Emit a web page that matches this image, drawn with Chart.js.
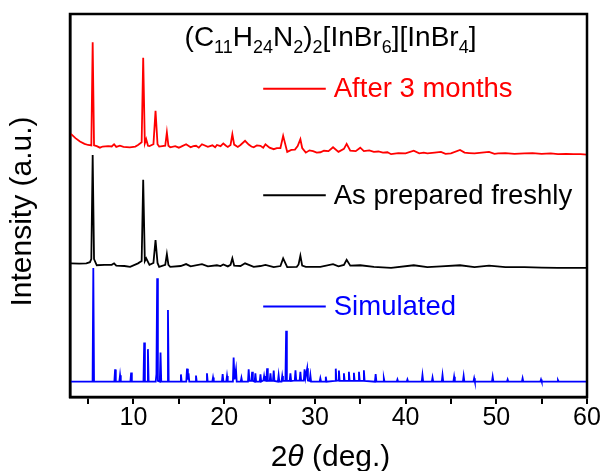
<!DOCTYPE html>
<html>
<head>
<meta charset="utf-8">
<script src="https://cdn.jsdelivr.net/npm/chart.js@4.4.1/dist/chart.umd.min.js"></script>
<style>
  html, body { margin: 0; padding: 0; background: #fff; }
  #wrap { width: 605px; height: 471px; }
</style>
</head>
<body>
<div id="wrap"><canvas id="xrd" width="605" height="471"></canvas></div>
<script>
// akser
const xMin = 3;
const xMax = 60;
const yMin = 0;
const yMax = 100;
const xTickValues = [5, 10, 15, 20, 25, 30, 35, 40, 45, 50, 55, 60];
const xTickLabels = ['', '10', '', '20', '', '30', '', '40', '', '50', '', '60'];

// serienavn
const seriesNames = ['After 3 months', 'As prepared freshly', 'Simulated'];

// etter 3 maaneder (2theta, intensitet)
const after3Months = [
  [3.1, 68.7], [3.6, 67.6], [4.1, 66.7], [4.6, 66.1], [5.0, 65.8], [5.35, 65.7], [5.5, 92.6], [5.65, 65.7],
  [5.95, 65.5], [6.3, 65.1], [6.6, 65.4], [7.2, 65.5], [7.6, 65.4], [7.86, 66.0], [8.1, 65.3], [8.5, 65.6], [8.9, 65.3], [9.6, 65.2],
  [10.2, 65.4], [10.5, 65.8], [10.9, 66.5], [11.07, 88.6], [11.25, 66.2], [11.4, 67.3], [11.6, 65.6], [11.76, 65.5],
  [12.2, 66.0], [12.43, 74.7], [12.65, 66.0], [12.83, 65.4], [13.5, 65.6], [13.68, 69.1], [13.85, 65.6], [14.05, 65.2],
  [14.6, 65.5], [15.0, 65.1], [15.2, 65.3], [15.8, 66.0], [16.3, 65.2], [16.6, 65.5], [16.9, 65.6], [17.2, 65.1], [17.55, 66.0], [18.2, 65.3], [18.7, 65.7],
  [19.0, 65.2], [19.2, 65.8], [19.6, 65.5], [19.9, 66.2], [20.2, 65.6], [20.4, 65.3], [20.7, 65.8], [20.9, 68.6], [21.1, 65.9], [21.5, 65.3],
  [21.8, 65.8], [22.3, 66.9], [22.7, 65.9], [23.0, 65.4], [23.25, 65.2], [23.6, 65.7], [24.0, 65.6], [24.3, 65.1], [24.55, 66.0], [25.0, 65.1], [25.46, 64.7],
  [25.8, 65.0], [26.2, 65.0], [26.5, 68.2], [26.95, 64.0], [27.4, 64.5], [27.8, 64.6], [28.1, 65.5], [28.4, 67.3], [28.6, 65.0],
  [29.0, 63.8], [29.4, 64.4], [29.8, 64.2], [30.2, 63.8], [30.6, 63.9], [31.0, 64.3], [31.5, 64.2], [32.0, 65.2], [32.6, 64.0], [33.2, 64.8], [33.5, 66.1],
  [33.9, 64.3], [34.5, 64.2], [35.0, 65.1], [35.4, 64.2], [36.0, 64.4], [36.5, 64.0], [37.0, 64.1], [37.5, 63.8], [38.0, 63.9], [38.4, 63.4],
  [39.2, 63.7], [40.0, 63.6], [40.9, 64.3], [41.5, 63.6], [42.0, 63.8], [42.4, 63.6], [43.2, 63.8], [43.9, 64.0], [44.4, 63.5], [45.0, 63.6],
  [46.0, 64.5], [46.5, 63.8], [47.0, 63.7], [47.6, 63.6], [48.4, 63.8], [49.2, 64.0], [49.8, 63.5], [50.2, 63.6], [51.0, 63.7], [52.0, 63.5],
  [53.1, 63.6], [54.0, 63.7], [55.0, 63.5], [56.0, 63.6], [56.8, 63.4], [57.7, 63.5], [58.5, 63.4], [59.3, 63.4],
  [60, 63.3]
];

// ferskt preparert
const asPrepared = [
  [3.1, 34.9], [4.0, 34.8], [4.8, 34.9], [5.2, 35.2], [5.35, 36.0], [5.5, 63.2], [5.65, 36.0], [5.95, 34.4],
  [6.8, 34.5], [7.6, 34.5], [7.86, 34.9], [8.1, 34.3], [9.0, 34.2], [9.63, 34.0], [10.5, 34.9], [10.9, 35.5],
  [11.07, 56.7], [11.25, 35.5], [11.4, 36.2], [11.76, 34.5], [12.2, 35.0], [12.43, 41.0], [12.65, 35.0], [12.83, 34.0],
  [13.5, 34.5], [13.68, 37.3], [13.85, 34.5], [14.05, 34.0], [15.2, 34.2], [15.8, 34.7], [16.3, 34.1], [17.55, 34.7],
  [18.2, 34.1], [19.2, 34.4], [19.6, 34.2], [19.9, 34.6], [20.4, 34.1], [20.7, 34.5], [20.9, 36.2], [21.1, 34.3],
  [21.8, 34.2], [22.3, 34.9], [23.25, 34.0], [24.0, 34.2], [24.55, 34.5], [25.46, 33.9], [26.2, 34.2], [26.5, 36.2],
  [26.95, 33.9], [28.0, 34.0], [28.2, 34.6], [28.4, 36.9], [28.6, 34.3], [29.0, 34.0], [30.6, 34.0], [32.0, 34.7],
  [32.6, 34.1], [33.2, 34.5], [33.5, 35.8], [33.9, 34.3], [35.0, 34.4], [36.5, 34.0], [38.4, 33.7], [40.9, 34.4],
  [42.4, 33.9], [43.9, 34.1], [46.0, 34.4], [47.6, 33.9], [49.2, 34.3], [51.0, 33.9], [53.1, 33.9], [55.0, 33.8],
  [56.8, 33.7], [60, 33.7]
];

// simulert
const simulated = [
  [3.0, 4.0], [5.49, 4.0], [5.57, 33.7], [5.65, 4.0],
  [7.89, 4.0], [7.97, 7.2], [8.05, 4.0], [8.44, 4.0], [8.52, 5.7], [8.6, 4.0],
  [9.66, 4.0], [9.74, 6.4], [9.82, 4.0], [11.1, 4.0], [11.18, 14.2], [11.26, 4.0],
  [11.51, 4.0], [11.59, 12.5], [11.67, 4.0], [12.45, 4.0], [12.53, 6.0], [12.61, 31.0], [12.69, 4.2],
  [12.9, 4.0], [12.98, 11.6], [13.06, 4.0], [13.72, 4.0], [13.8, 22.7], [13.88, 4.0],
  [15.15, 4.0], [15.23, 5.9], [15.31, 4.0], [15.82, 4.0], [15.9, 7.4], [16.0, 4.5], [16.07, 6.2], [16.15, 4.0],
  [16.81, 4.0], [16.89, 5.6], [16.97, 4.0], [18.02, 4.0], [18.1, 6.2], [18.18, 4.0],
  [18.69, 4.0], [18.77, 5.1], [18.85, 4.0], [19.75, 4.0], [19.83, 6.0], [19.91, 4.0],
  [20.23, 4.0], [20.31, 5.5], [20.39, 4.0], [20.96, 4.0], [21.04, 10.3], [21.14, 4.6], [21.3, 7.2], [21.38, 4.0],
  [21.82, 4.0], [21.9, 5.0], [21.98, 4.0], [22.62, 4.0], [22.7, 7.2], [22.78, 4.2],
  [23.0, 4.2], [23.08, 6.6], [23.16, 4.2], [23.36, 4.0], [23.44, 6.2], [23.52, 4.0],
  [23.92, 4.0], [24.0, 5.9], [24.08, 4.0], [24.32, 4.3], [24.4, 5.5], [24.48, 4.3],
  [24.65, 4.2], [24.73, 7.5], [24.81, 4.2], [25.02, 4.2], [25.1, 6.2], [25.18, 4.2],
  [25.38, 4.2], [25.46, 6.9], [25.54, 4.2], [25.92, 4.0], [26.0, 5.7], [26.08, 4.0],
  [26.32, 4.0], [26.4, 5.5], [26.48, 4.2], [26.75, 4.2], [26.83, 17.3], [26.91, 4.2],
  [27.22, 4.2], [27.3, 6.2], [27.38, 4.2], [27.78, 4.3], [27.86, 7.0], [27.94, 4.3],
  [28.32, 4.3], [28.4, 6.6], [28.48, 4.3], [28.78, 4.3], [28.86, 7.2], [28.96, 5.0], [29.15, 7.5], [29.23, 4.3],
  [29.42, 4.2], [29.5, 5.7], [29.58, 4.0], [30.52, 4.0], [30.6, 4.9], [30.68, 4.0],
  [31.12, 4.0], [31.2, 5.3], [31.28, 4.0], [32.22, 4.2], [32.3, 7.4], [32.38, 4.3], [32.57, 4.3], [32.65, 6.9], [32.73, 4.2],
  [33.12, 4.2], [33.2, 6.2], [33.28, 4.2], [33.67, 4.2], [33.75, 6.6], [33.83, 4.2],
  [34.22, 4.2], [34.3, 6.3], [34.38, 4.2], [34.78, 4.2], [34.86, 6.6], [34.94, 4.2],
  [35.32, 4.2], [35.4, 7.0], [35.48, 4.2], [36.62, 4.0], [36.7, 6.0], [36.78, 4.0],
  [37.52, 4.0], [37.6, 4.9], [37.68, 4.0], [39.02, 4.0], [39.1, 4.6], [39.18, 4.0],
  [40.12, 4.0], [40.2, 4.6], [40.28, 4.0], [41.78, 4.0], [41.86, 5.7], [41.94, 4.0],
  [42.89, 4.0], [42.97, 5.1], [43.05, 4.0], [43.99, 4.0], [44.07, 5.7], [44.15, 4.0],
  [45.27, 4.0], [45.35, 5.3], [45.43, 4.0], [46.32, 4.0], [46.4, 5.5], [46.48, 4.0],
  [47.48, 4.0], [47.56, 4.9], [47.64, 4.0], [49.52, 4.0], [49.6, 5.3], [49.68, 4.0],
  [51.17, 4.0], [51.25, 4.6], [51.33, 4.0], [52.82, 4.0], [52.9, 4.9], [52.98, 4.0],
  [54.85, 4.0], [54.93, 4.6], [55.01, 4.0], [56.72, 4.0], [56.8, 4.4], [56.88, 4.0],
  [60, 4.0]
];

const seriesData = [after3Months, asPrepared, simulated];
const seriesColors = ['#ff0000', '#000000', '#0000ff'];

// tekst i plottet: tittel med senket skrift + etiketter ved linjene
const textPlugin = {
  id: 'textPlugin',
  afterDraw(chart) {
    const ctx = chart.ctx;
    const area = chart.chartArea;
    const xs = chart.scales.x;
    const ys = chart.scales.y;

    // ramme rundt plottet
    ctx.save();
    ctx.strokeStyle = '#000';
    ctx.lineWidth = 2.5;
    ctx.strokeRect(area.left, area.top, area.right - area.left, area.bottom - area.top);

    // tittel
    const parts = [['(C', 0], ['11', 1], ['H', 0], ['24', 1], ['N', 0], ['2', 1], [')', 0], ['2', 1],
                   ['[InBr', 0], ['6', 1], ['][InBr', 0], ['4', 1], [']', 0]];
    const bigFont = '28px "Liberation Sans", Arial, sans-serif';
    const smallFont = '18px "Liberation Sans", Arial, sans-serif';
    let total = 0;
    for (const p of parts) {
      ctx.font = p[1] ? smallFont : bigFont;
      total += ctx.measureText(p[0]).width;
    }
    let tx = (area.left + area.right) / 2 - total / 2 + 2;
    const ty = 46;
    ctx.fillStyle = '#000';
    ctx.textBaseline = 'alphabetic';
    ctx.textAlign = 'left';
    for (const p of parts) {
      ctx.font = p[1] ? smallFont : bigFont;
      ctx.fillText(p[0], tx, p[1] ? ty + 7 : ty);
      tx += ctx.measureText(p[0]).width;
    }

    // etiketter
    const labelY = [80.5, 52.7, 23.6];
    const x0 = xs.getPixelForValue(24.3);
    const x1 = xs.getPixelForValue(31.2);
    ctx.font = '27.5px "Liberation Sans", Arial, sans-serif';
    ctx.textBaseline = 'middle';
    for (let i = 0; i < seriesNames.length; i++) {
      const y = ys.getPixelForValue(labelY[i]);
      ctx.strokeStyle = seriesColors[i];
      ctx.lineWidth = 2;
      ctx.beginPath();
      ctx.moveTo(x0, y);
      ctx.lineTo(x1, y);
      ctx.stroke();
      ctx.fillStyle = seriesColors[i];
      ctx.fillText(seriesNames[i], x1 + 8, y + 1);
    }

    // aksetitler
    ctx.fillStyle = '#000';
    ctx.textBaseline = 'alphabetic';
    const f = '30px "Liberation Sans", Arial, sans-serif';
    const fi = 'italic 30px "Liberation Sans", Arial, sans-serif';
    const xt = [['2', f], ['\u03b8', fi], [' (deg.)', f]];
    let w = 0;
    for (const p of xt) { ctx.font = p[1]; w += ctx.measureText(p[0]).width; }
    let px = (area.left + area.right) / 2 - w / 2 + 2;
    for (const p of xt) {
      ctx.font = p[1];
      ctx.fillText(p[0], px, 466);
      px += ctx.measureText(p[0]).width;
    }

    ctx.translate(31, (area.top + area.bottom) / 2 + 6);
    ctx.rotate(-Math.PI / 2);
    ctx.font = f;
    ctx.textAlign = 'center';
    ctx.fillText('Intensity (a.u.)', 0, 0);
    ctx.restore();
  }
};

const chart = new Chart(document.getElementById('xrd').getContext('2d'), {
  type: 'scatter',
  data: {
    datasets: seriesData.map((arr, i) => ({
      label: seriesNames[i],
      data: arr.map(p => ({ x: p[0], y: p[1] })),
      showLine: true,
      borderColor: seriesColors[i],
      borderWidth: 1.8,
      pointRadius: 0,
      tension: 0
    }))
  },
  options: {
    responsive: false,
    animation: false,
    layout: { padding: { top: 14, right: 18, left: 0, bottom: 0 } },
    plugins: { legend: { display: false }, tooltip: { enabled: false } },
    scales: {
      x: {
        type: 'linear',
        min: xMin,
        max: xMax,
        afterBuildTicks: s => { s.ticks = xTickValues.map(v => ({ value: v })); },
        afterFit: s => { s.height = 74; },
        grid: { drawOnChartArea: false, drawTicks: true, tickLength: 7, color: '#000', lineWidth: 2 },
        border: { display: true, color: '#000', width: 2.5 },
        ticks: {
          autoSkip: false,
          maxRotation: 0,
          padding: -1,
          color: '#000',
          font: { family: '"Liberation Sans", Arial, sans-serif', size: 25 },
          callback: (v) => xTickLabels[xTickValues.indexOf(v)] || ''
        }
      },
      y: {
        min: yMin,
        max: yMax,
        afterFit: s => { s.width = 70; },
        grid: { display: false },
        border: { display: true, color: '#000', width: 2.5 },
        ticks: { display: false }
      }
    }
  },
  plugins: [textPlugin]
});
</script>
</body>
</html>
